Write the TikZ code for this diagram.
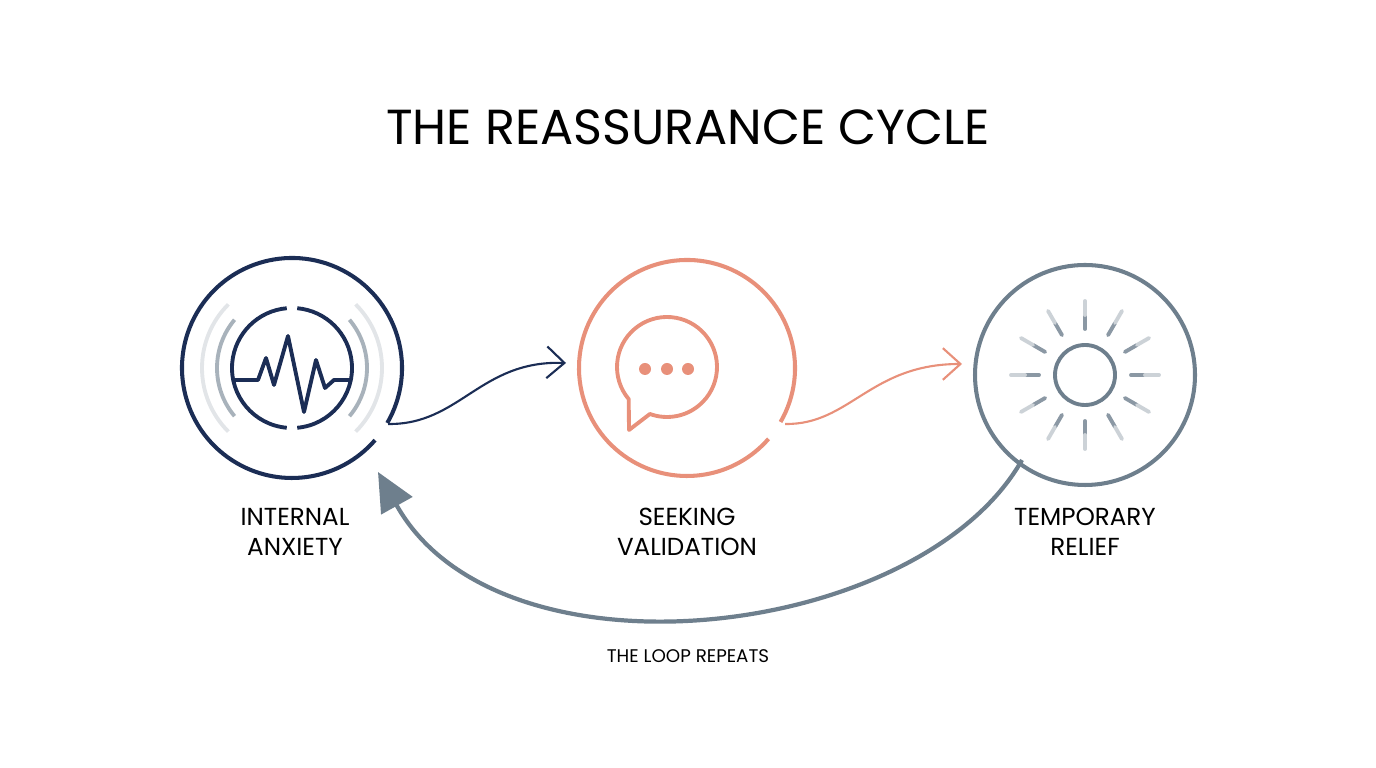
\documentclass[tikz,border=0pt]{standalone}
\usepackage{fontspec}
\setmainfont{Poppins}
\usetikzlibrary{arrows.meta}
\definecolor{navy}{HTML}{1B2D55}
\definecolor{salmon}{HTML}{E8907A}
\definecolor{slate}{HTML}{6E7F8D}
\begin{document}
\begin{tikzpicture}[x=0.01cm,y=-0.01cm,
  lbl/.style={align=center,font=\fontsize{7}{8.5}\selectfont,text=black},
  ring/.style={line width=1.15pt},
  flow/.style={line width=0.6pt,-{Straight Barb[length=5pt,width=9pt]}}]
\useasboundingbox (0,0) rectangle (1376,768);
\node (title) at (688,127) {\fontsize{14}{16}\selectfont THE REASSURANCE CYCLE};
% left
\coordinate (c1) at (292,368);
\draw[navy,ring] (c1) ++(30:110) arc[start angle=30,end angle=-319,radius=110];
\draw[navy,line width=1.1pt] (c1) ++(85:60) arc[start angle=85,end angle=-85,radius=60];
\draw[navy,line width=1.1pt] (c1) ++(95:60) arc[start angle=95,end angle=265,radius=60];
\draw[slate!60,line width=1.1pt] (c1) ++(40:75) arc[start angle=40,end angle=-40,radius=75];
\draw[slate!60,line width=1.1pt] (c1) ++(140:75) arc[start angle=140,end angle=220,radius=75];
\draw[slate!20,line width=1.1pt] (c1) ++(45:90) arc[start angle=45,end angle=-45,radius=90];
\draw[slate!20,line width=1.1pt] (c1) ++(135:90) arc[start angle=135,end angle=225,radius=90];
\draw[navy,line width=1.1pt,line join=round] (234,380)--(258,380)--(266,358)--(274,385)--(288,336)--(304,412)--(316,360)--(325,388)--(334,380)--(350,380);
\node[lbl] (l1) at (295,532) {INTERNAL\\ANXIETY};
% middle
\coordinate (c2) at (687,368);
\draw[salmon,ring] (c2) ++(30:108) arc[start angle=30,end angle=-319,radius=108];
\draw[salmon,line width=1.1pt,line join=round] (667,367) ++(140:50) arc[start angle=140,end angle=470,radius=50] -- (629,430) -- cycle;
\foreach \x in {645,667,688} \fill[salmon] (\x,369) circle (6);
\node[lbl] (l2) at (687,532) {SEEKING\\VALIDATION};
% right
\coordinate (c3) at (1085,375);
\draw[slate,ring] (c3) circle (110);
\draw[slate,line width=1.1pt] (c3) circle (30);
\foreach \a in {0,30,...,330}{
  \draw[slate!80,line width=1.1pt,line cap=round] (c3) ++(\a:46) -- ++(\a:14);
  \draw[slate!35,line width=1.1pt,line cap=round] (c3) ++(\a:60) -- ++(\a:14);}
\node[lbl] (l3) at (1085,532) {TEMPORARY\\RELIEF};
% connectors
\coordinate (a1s) at (388,424); \coordinate (a1e) at (566,363);
\draw[navy,flow] (a1s) .. controls (460,425) and (480,360) .. (a1e);
\coordinate (a2s) at (785,424); \coordinate (a2e) at (962,364);
\draw[salmon,flow] (a2s) .. controls (850,425) and (870,364) .. (a2e);
\coordinate (rs) at (1022,460); \coordinate (re) at (378,472);
\draw[slate,line width=1.2pt,-{Triangle[length=11pt,width=10pt]}] (rs) .. controls (920,640) and (500,690) .. (re);
\node[font=\fontsize{5.2}{6}\selectfont] (loop) at (688,656) {THE LOOP REPEATS};
\end{tikzpicture}
\end{document}
